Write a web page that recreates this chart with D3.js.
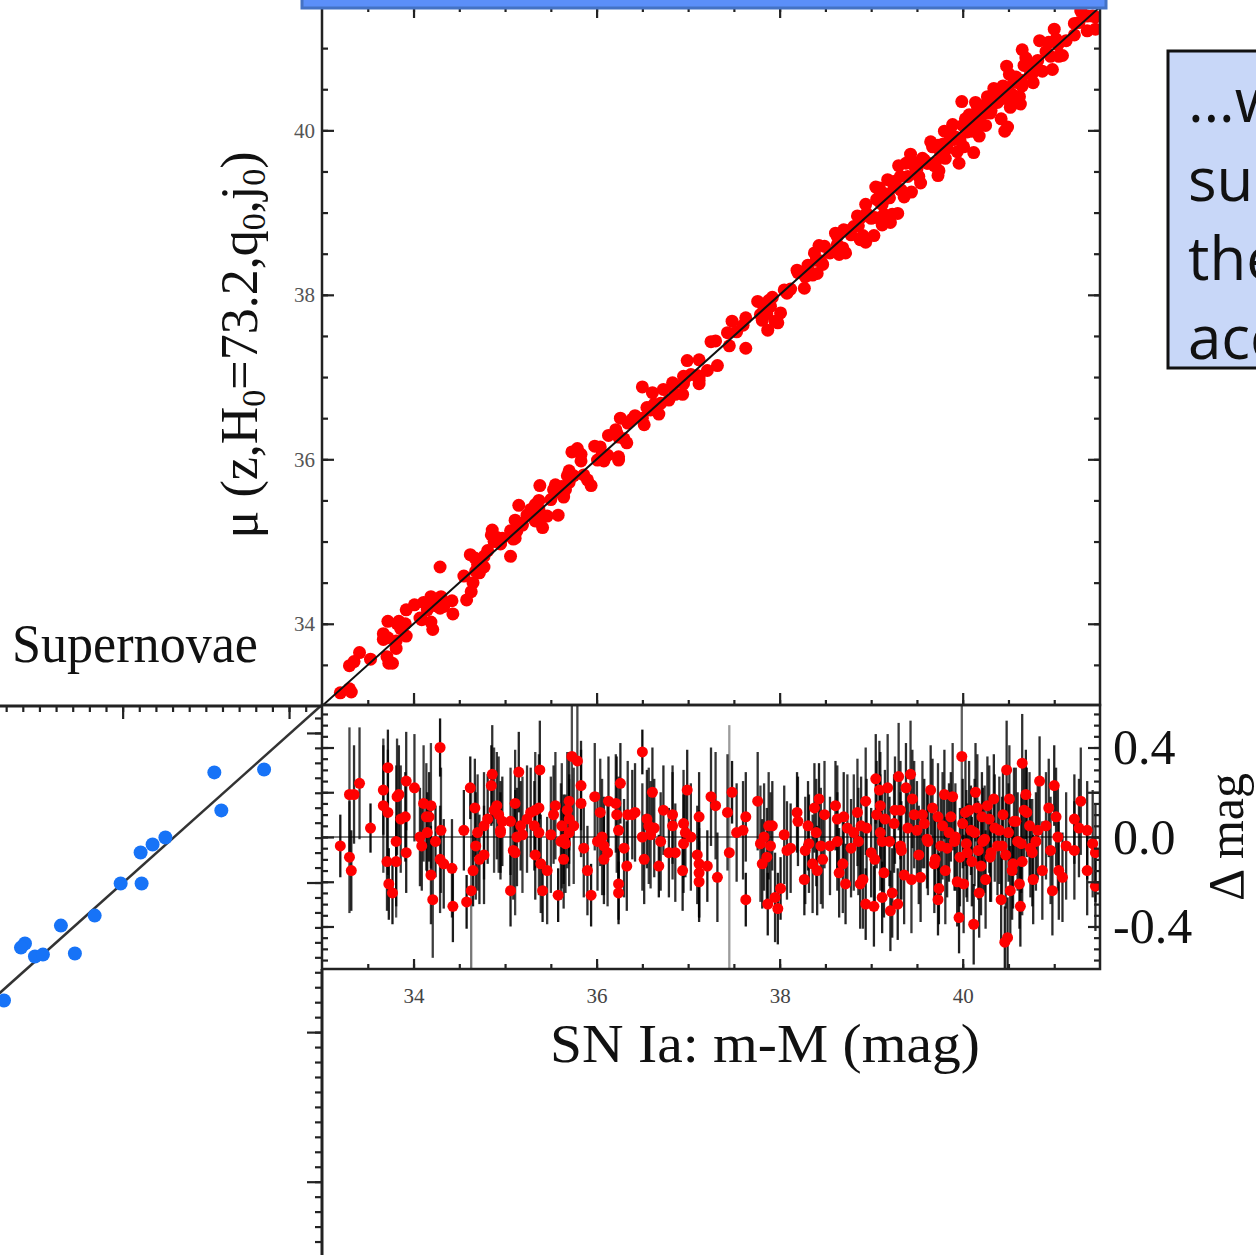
<!DOCTYPE html>
<html>
<head>
<meta charset="utf-8">
<script src="https://cdn.jsdelivr.net/npm/d3@7"></script>
<style>
  body { margin: 0; background: #fff; overflow: hidden; }
  svg { display: block; }
</style>
</head>
<body>
<svg id="chart" width="1256" height="1255"></svg>
<script>
// SN Ia: [m-M (mag), residual Δmag, error (mag)]
const sneNear = [
  [33.20,-0.04,0.14],[33.30,0.19,0.30],[33.35,0.19,0.22],[33.30,-0.09,0.25],[33.32,-0.15,0.18],
  [33.41,0.24,0.25],[33.53,0.04,0.11],[33.67,0.21,0.20],[33.72,0.31,0.17],[33.67,0.14,0.30],
  [33.72,0.11,0.28],[33.71,-0.11,0.22],[33.81,-0.11,0.20],[33.81,-0.02,0.34],[33.73,-0.21,0.16],
  [33.77,-0.25,0.14],[33.82,0.18,0.26],[33.84,0.19,0.22],[33.86,0.08,0.24],[33.91,0.09,0.20],
  [33.92,0.25,0.22],[34.01,0.22,0.24],[33.92,-0.07,0.18],[34.07,0.00,0.22],[34.09,-0.04,0.20],
  [34.11,0.15,0.26],[34.14,0.09,0.24],[34.17,0.09,0.20],[34.19,0.14,0.28],[34.15,0.02,0.18],
  [34.24,-0.02,0.16],[34.29,0.40,0.13],[34.30,0.03,0.28],[34.29,-0.10,0.24],[34.33,-0.12,0.20],
  [34.42,-0.14,0.22],[34.19,-0.17,0.22],[34.21,-0.28,0.26],[34.43,-0.31,0.16],[34.58,-0.29,0.12],
  [34.63,-0.24,0.45],[34.62,0.22,0.14],[34.67,0.13,0.22],[34.55,0.03,0.18],[34.68,-0.04,0.24],
  [34.65,-0.15,0.16],[34.77,-0.08,0.22],[34.72,-0.10,0.20],[34.70,0.02,0.26],[34.77,0.05,0.24],
  [34.81,0.08,0.20],[34.85,0.23,0.18],[34.86,0.28,0.22],[34.88,0.12,0.28],[34.91,0.14,0.24],
  [34.93,0.10,0.26],[34.95,0.03,0.22],[34.97,0.07,0.20],[35.06,0.07,0.24],[34.95,0.02,0.18],
  [35.09,-0.06,0.22],[35.06,-0.24,0.16],[35.11,-0.07,0.28],[35.15,0.29,0.18],[35.11,0.15,0.24],
  [35.17,0.05,0.20],[35.19,0.01,0.26],[35.13,0.00,0.22],[35.24,0.08,0.24],[35.28,0.11,0.20],
  [35.33,0.12,0.26],[35.38,0.30,0.22],[35.37,0.13,0.24],[35.32,0.05,0.20],[35.37,0.02,0.28],
  [35.39,-0.12,0.22],[35.33,-0.08,0.20],[35.41,-0.24,0.14],[35.46,-0.15,0.24],[35.50,0.01,0.26],
  [35.53,0.10,0.22],[35.55,0.14,0.24],[35.61,-0.02,0.26],[35.64,-0.01,0.20],[35.62,0.05,0.28],
  [35.66,-0.03,0.22],[35.70,0.02,0.24],[35.70,0.08,0.20],[35.68,0.12,0.26],[35.70,0.16,0.22],
  [35.73,0.36,0.32],[35.79,0.34,0.30],[35.83,0.23,0.20],[35.83,0.15,0.24],[35.75,0.05,0.26],
  [35.64,-0.10,0.22],[35.58,-0.26,0.12],[35.86,-0.05,0.22],[35.90,-0.15,0.20],[35.94,-0.26,0.14],
  [35.98,0.18,0.24],[36.01,-0.02,0.22],[36.04,0.11,0.24],[36.06,0.00,0.26],[36.08,-0.04,0.22],
  [36.08,-0.10,0.20],[36.12,-0.07,0.24],[36.13,0.16,0.20],[36.21,0.15,0.22],[36.22,0.10,0.26],
  [36.24,0.03,0.24],[36.26,0.24,0.18],[36.24,-0.21,0.16],[36.24,-0.25,0.14],[36.30,-0.05,0.22],
  [36.33,-0.13,0.20],[36.34,0.10,0.24],[36.39,0.10,0.20],[36.42,0.11,0.22],[36.50,0.38,0.10],
  [36.50,0.00,0.24],[36.52,-0.10,0.20],[36.55,0.08,0.22],[36.57,0.05,0.26],[36.61,0.20,0.20],
  [36.59,0.01,0.24],[36.63,0.04,0.22],[36.68,-0.13,0.14],[36.70,-0.02,0.22],[36.73,0.12,0.20],
  [36.83,0.10,0.22],[36.83,0.05,0.24],[36.79,-0.07,0.20],[36.86,-0.07,0.22],[36.94,-0.15,0.18],
  [36.95,0.06,0.24],[36.97,0.02,0.20],[36.99,0.21,0.18],[36.95,-0.03,0.22],[37.03,0.00,0.24],
  [37.12,0.09,0.20],[37.10,-0.08,0.22],[37.12,-0.12,0.24],[37.12,-0.16,0.20],[37.12,-0.20,0.18],
  [37.21,-0.13,0.16],[37.25,0.18,0.22],[37.30,0.14,0.24],[37.32,-0.18,0.20]
];

const sneFar = [
  [37.45,-0.07,0.57],[37.48,0.20,0.14],[37.43,0.11,0.26],[37.53,0.02,0.22],[37.63,0.09,0.20],
  [37.63,-0.28,0.12],[37.76,0.16,0.22],[37.79,-0.03,0.26],[37.83,0.00,0.24],[37.81,-0.12,0.20],
  [37.86,-0.09,0.22],[37.88,0.05,0.24],[37.92,0.05,0.20],[37.87,-0.30,0.14],[37.95,-0.27,0.20],
  [37.98,-0.32,0.16],[38.01,-0.23,0.14],[38.08,-0.06,0.22],[38.12,-0.05,0.20],[38.19,0.11,0.18],
  [38.27,-0.19,0.16],[38.28,-0.06,0.24],[38.31,0.05,0.20],[38.32,-0.03,0.22],[38.38,0.13,0.20],
  [38.36,-0.12,0.22],[38.43,0.17,0.16],[38.41,-0.15,0.20],[38.47,-0.10,0.22],[38.49,0.10,0.24],
  [38.45,-0.04,0.26],[38.61,0.14,0.20],[38.63,0.08,0.24],[38.63,-0.02,0.22],[38.65,-0.16,0.20],
  [38.72,-0.21,0.18],[38.69,-0.12,0.22],[38.74,0.04,0.24],[38.78,-0.05,0.22],[38.81,0.02,0.26],
  [38.85,0.11,0.24],[38.89,0.05,0.22],[38.88,-0.21,0.20],[38.91,-0.19,0.22],[38.94,0.16,0.24],
  [38.94,-0.30,0.16],[39.03,-0.31,0.18],[39.04,-0.10,0.22],[39.05,0.26,0.20],[39.09,0.21,0.22],
  [39.10,0.14,0.24],[39.10,0.02,0.26],[39.12,-0.02,0.22],[39.14,-0.16,0.20],[39.18,0.22,0.24],
  [39.12,-0.27,0.16],[39.21,-0.33,0.18],[39.23,-0.25,0.20],[39.29,-0.30,0.16],[39.30,0.27,0.24],
  [39.25,0.06,0.22],[39.32,-0.04,0.24],[39.32,0.12,0.22],[39.38,0.22,0.20],[39.36,-0.17,0.22],
  [39.43,0.28,0.24],[39.45,0.17,0.22],[39.44,-0.19,0.24],[39.50,0.03,0.22],[39.54,-0.18,0.20],
  [39.56,0.10,0.24],[39.61,-0.01,0.22],[39.65,0.21,0.20],[39.69,-0.12,0.22],[39.73,0.09,0.24],
  [39.74,-0.23,0.16],[39.73,-0.28,0.16],[39.76,-0.04,0.22],[39.80,0.19,0.20],[39.81,-0.15,0.24],
  [39.85,0.02,0.22],[39.89,0.18,0.24],[39.91,-0.02,0.22],[39.94,-0.20,0.20],[39.96,-0.36,0.16],
  [39.99,0.36,0.37],[40.01,-0.21,0.22],[40.03,0.11,0.24],[40.05,-0.07,0.22],[40.09,0.03,0.20],
  [40.12,-0.39,0.18],[40.14,0.20,0.22],[40.16,0.13,0.24],[40.18,-0.25,0.20],[40.20,-0.13,0.22],
  [40.22,-0.02,0.24],[40.25,-0.19,0.22],[40.29,0.08,0.24],[40.31,-0.07,0.22],[40.34,0.17,0.20],
  [40.40,0.03,0.24],[40.42,-0.28,0.20],[40.43,-0.04,0.22],[40.46,-0.47,0.16],[40.48,0.30,0.22],
  [40.49,-0.45,0.18],[40.51,0.17,0.24],[40.52,-0.24,0.20],[40.54,-0.15,0.22],[40.56,0.07,0.24],
  [40.60,-0.02,0.22],[40.62,-0.21,0.20],[40.63,-0.31,0.18],[40.65,0.33,0.22],[40.65,-0.11,0.24],
  [40.67,0.12,0.22],[40.69,0.19,0.20],[40.73,0.05,0.24],[40.74,-0.05,0.22],[40.77,-0.19,0.20],
  [40.80,-0.02,0.22],[40.84,0.25,0.20],[40.87,-0.15,0.22],[40.91,0.05,0.24],[40.94,0.13,0.22],
  [40.96,-0.06,0.24],[40.98,-0.24,0.20],[41.00,0.23,0.18],[41.02,0.09,0.22],[41.04,0.00,0.24],
  [41.05,-0.15,0.22],[41.09,-0.18,0.20],[41.13,-0.04,0.24],[41.22,-0.06,0.22],[41.22,0.08,0.20],
  [41.27,0.04,0.22],[41.29,0.16,0.24],[41.36,0.03,0.22],[41.36,-0.15,0.20],[41.42,-0.03,0.24],
  [41.45,-0.22,0.20],[41.45,-0.07,0.22]
];

// the dense clump of distant SNe around zero residual
const sneClump = [
  [37.60,0.03,0.22],[37.90,-0.04,0.24],[38.05,0.01,0.22],[38.20,0.07,0.20],[38.40,0.02,0.24],
  [38.55,-0.04,0.22],[38.70,0.09,0.20],[38.86,-0.02,0.24],[38.95,0.04,0.22],[39.00,-0.07,0.20],
  [39.06,0.10,0.24],[39.15,0.08,0.22],[39.20,-0.02,0.20],[39.26,0.12,0.24],[39.33,-0.06,0.22],
  [39.40,0.04,0.20],[39.47,0.10,0.24],[39.52,-0.08,0.22],[39.58,0.06,0.20],[39.62,-0.02,0.24],
  [39.67,0.13,0.22],[39.70,-0.10,0.20],[39.78,0.05,0.24],[39.83,-0.05,0.22],[39.87,0.09,0.20],
  [39.92,0.00,0.24],[39.97,-0.09,0.22],[40.00,0.06,0.20],[40.04,-0.03,0.24],[40.07,0.12,0.22],
  [40.10,-0.11,0.20],[40.13,0.02,0.24],[40.17,-0.06,0.22],[40.21,0.09,0.20],[40.24,-0.01,0.24],
  [40.27,0.14,0.22],[40.30,-0.09,0.20],[40.35,0.04,0.24],[40.38,-0.04,0.22],[40.44,0.10,0.20],
  [40.47,-0.08,0.24],[40.50,0.02,0.22],[40.55,-0.12,0.20],[40.58,0.07,0.24],[40.64,-0.03,0.22],
  [40.70,0.11,0.20],[40.76,-0.07,0.24],[40.82,0.03,0.22]
];

const fitLine = [[33, 33], [41.5, 41.5]];

// lower-left rung (unlabelled axes, arbitrary units)
const rungPoints = [
  [0.551,0.736],[0.850,0.756],[0.593,0.482],[0.257,0.301],[0.180,0.254],[0.108,0.201],
  [-0.012,-0.007],[0.114,-0.007],[-0.168,-0.221],[-0.371,-0.288],[-0.587,-0.408],
  [-0.611,-0.435],[-0.527,-0.495],[-0.479,-0.482],[-0.287,-0.475],[-0.713,-0.789]
];
const rungLine = [[-0.74, -0.74], [1.2, 1.19]];

const muTicks = [34, 36, 38, 40];
const resTicks = [-0.4, 0, 0.4];
const boxLines = ['\u2026which', 'supernovae', 'the', 'acceleration'];

const svg = d3.select('#chart');
const serif = '"Liberation Serif", "Times New Roman", serif';
const ink = '#222';

const x = d3.scaleLinear().domain([33, 41.5]).range([322, 1100]);
const yMu = d3.scaleLinear().domain([33, 41.5]).range([706, 7]);
const yRes = d3.scaleLinear().domain([-0.59, 0.59]).range([969, 705]);
const llX = d3.scaleLinear().domain([-0.737, 1.198]).range([0, 322]);
const llY = d3.scaleLinear().domain([-2.49, 1.18]).range([1255, 706]);
const barOpacity = d3.scaleLinear().domain([0.1, 0.6]).range([0.95, 0.35]).clamp(true);

const allSne = sneNear.concat(sneFar, sneClump);

const defs = svg.append('defs');
defs.append('clipPath').attr('id', 'clipMain')
  .append('rect').attr('x', 322).attr('y', 0).attr('width', 778).attr('height', 705);
defs.append('clipPath').attr('id', 'clipRes')
  .append('rect').attr('x', 322).attr('y', 705).attr('width', 778).attr('height', 264);
defs.append('clipPath').attr('id', 'clipLL')
  .append('rect').attr('x', 0).attr('y', 706).attr('width', 322).attr('height', 549);

// ---- main Hubble diagram
const main = svg.append('g').attr('clip-path', 'url(#clipMain)');
main.selectAll('circle')
  .data(allSne)
  .join('circle')
  .attr('cx', d => x(d[0]))
  .attr('cy', d => yMu(d[0] + d[1]))
  .attr('r', 6.5)
  .attr('fill', '#ff0000');

main.append('path')
  .datum(fitLine)
  .attr('d', d3.line().x(d => x(d[0])).y(d => yMu(d[1])))
  .attr('stroke', '#111')
  .attr('stroke-width', 2)
  .attr('fill', 'none');

// ---- residual panel
const res = svg.append('g').attr('clip-path', 'url(#clipRes)');
res.append('line')
  .attr('x1', 322).attr('x2', 1100)
  .attr('y1', yRes(0)).attr('y2', yRes(0))
  .attr('stroke', '#555').attr('stroke-width', 1.5);

res.selectAll('line.err')
  .data(allSne)
  .join('line')
  .attr('class', 'err')
  .attr('x1', d => x(d[0])).attr('x2', d => x(d[0]))
  .attr('y1', d => yRes(d[1] - d[2]))
  .attr('y2', d => yRes(d[1] + d[2]))
  .attr('stroke', '#000')
  .attr('stroke-width', 2.3)
  .attr('opacity', d => barOpacity(d[2]));

res.selectAll('circle')
  .data(allSne)
  .join('circle')
  .attr('cx', d => x(d[0]))
  .attr('cy', d => yRes(d[1]))
  .attr('r', 5.5)
  .attr('fill', '#ff0000');

// ---- lower-left rung
const ll = svg.append('g').attr('clip-path', 'url(#clipLL)');
ll.append('path')
  .datum(rungLine)
  .attr('d', d3.line().x(d => llX(d[0])).y(d => llY(d[1])))
  .attr('stroke', '#333')
  .attr('stroke-width', 2.5)
  .attr('fill', 'none');
ll.selectAll('circle')
  .data(rungPoints)
  .join('circle')
  .attr('cx', d => llX(d[0]))
  .attr('cy', d => llY(d[1]))
  .attr('r', 7)
  .attr('fill', '#1773f7');

// ---- frames
const frame = svg.append('g').attr('fill', 'none').attr('stroke', ink).attr('stroke-width', 2.5);
frame.append('rect').attr('x', 322).attr('y', 7).attr('width', 778).attr('height', 698);
frame.append('rect').attr('x', 322).attr('y', 705).attr('width', 778).attr('height', 264);
frame.append('line').attr('x1', 322).attr('x2', 322).attr('y1', 969).attr('y2', 1255).attr('stroke-width', 3);
frame.append('line').attr('x1', 0).attr('x2', 322).attr('y1', 706).attr('y2', 706).attr('stroke-width', 3);

// ---- ticks
function tickAxis(axis, scale, values, size, tx, ty) {
  const g = svg.append('g')
    .attr('transform', `translate(${tx},${ty})`)
    .call(axis(scale).tickValues(values).tickSize(size).tickFormat(''));
  g.select('.domain').remove();
  g.selectAll('line').attr('stroke', ink).attr('stroke-width', 2.2);
  return g;
}
const halfMag = d3.range(33.5, 41.5, 0.5);
const resMinor = d3.range(-55, 60, 5).map(v => v / 100);
const resMajor = [-0.4, -0.2, 0, 0.2, 0.4];

tickAxis(d3.axisTop, x, halfMag, -5, 0, 7);
tickAxis(d3.axisTop, x, muTicks, -11, 0, 7);
tickAxis(d3.axisBottom, x, halfMag, -5, 0, 705);
tickAxis(d3.axisBottom, x, muTicks, -12, 0, 705);
tickAxis(d3.axisLeft, yMu, halfMag, -6, 322, 0);
tickAxis(d3.axisRight, yMu, halfMag, -6, 1100, 0);
tickAxis(d3.axisRight, yMu, muTicks, -12, 1100, 0);
tickAxis(d3.axisBottom, x, halfMag, -5, 0, 969);
tickAxis(d3.axisLeft, yRes, resMinor, -6, 322, 0);
tickAxis(d3.axisLeft, yRes, resMajor, -12, 322, 0);
tickAxis(d3.axisRight, yRes, resMinor, -6, 1100, 0);
tickAxis(d3.axisRight, yRes, resMajor, -12, 1100, 0);
tickAxis(d3.axisTop, llX, d3.range(-7, 12).map(v => v / 10), -6, 0, 706);
tickAxis(d3.axisTop, llX, [0, 1], -13, 0, 706);
tickAxis(d3.axisRight, llY, d3.range(-24, 12).map(v => v / 10), -7, 322, 0);
tickAxis(d3.axisRight, llY, [1, 0, -1, -2], -15, 322, 0);

// ---- labelled axes
function styleLabels(g, size, color) {
  g.select('.domain').remove();
  g.selectAll('line').attr('stroke', ink).attr('stroke-width', 2.2);
  g.selectAll('text')
    .attr('font-family', serif)
    .attr('font-size', size)
    .attr('fill', color);
}
svg.append('g').attr('transform', 'translate(322,0)')
  .call(d3.axisLeft(yMu).tickValues(muTicks).tickSize(-12).tickPadding(7))
  .call(g => styleLabels(g, 21, '#555'));

svg.append('g').attr('transform', 'translate(0,969)')
  .call(d3.axisBottom(x).tickValues(muTicks).tickSize(-10).tickPadding(19))
  .call(g => styleLabels(g, 21, '#444'));

svg.append('g').attr('transform', 'translate(1100,0)')
  .call(d3.axisRight(yRes).tickValues(resTicks).tickSize(0).tickPadding(13)
    .tickFormat(d => d.toFixed(1)))
  .call(g => styleLabels(g, 50, '#111'));

// ---- titles
svg.append('text')
  .attr('x', 765).attr('y', 1062)
  .attr('text-anchor', 'middle')
  .attr('font-family', serif).attr('font-size', 54).attr('fill', '#111')
  .attr('textLength', 430).attr('lengthAdjust', 'spacingAndGlyphs')
  .text('SN Ia: m-M (mag)');

svg.append('text')
  .attr('x', 12).attr('y', 662)
  .attr('font-family', serif).attr('font-size', 54).attr('fill', '#111')
  .attr('textLength', 246).attr('lengthAdjust', 'spacingAndGlyphs')
  .text('Supernovae');

// y title with subscripts; each subscript drops 8px, the following run lifts back
const yTitle = svg.append('text')
  .attr('transform', 'translate(257,345) rotate(-90)')
  .attr('text-anchor', 'middle')
  .attr('font-family', serif).attr('font-size', 52).attr('fill', '#111');
let drop = 0;
[['\u03bc (z,H', false], ['0', true], ['=73.2,q', false], ['0', true], [',j', false], ['0', true], [')', false]]
  .forEach(([t, sub]) => {
    const target = sub ? 8 : 0;
    yTitle.append('tspan')
      .attr('font-size', sub ? 34 : 52)
      .attr('dy', target - drop)
      .text(t);
    drop = target;
  });

svg.append('text')
  .attr('transform', 'translate(1243,837) rotate(-90)')
  .attr('text-anchor', 'middle')
  .attr('font-family', serif).attr('font-size', 50).attr('fill', '#111')
  .text('\u0394 mag');

// ---- overlay boxes
svg.append('rect')
  .attr('x', 302).attr('y', -10).attr('width', 804).attr('height', 18)
  .attr('fill', '#5b8ff9').attr('stroke', '#4472c4').attr('stroke-width', 3);

svg.append('rect')
  .attr('x', 1168).attr('y', 51).attr('width', 200).attr('height', 317)
  .attr('fill', '#c8d7f8').attr('stroke', '#111').attr('stroke-width', 3);

svg.append('g')
  .selectAll('text')
  .data(boxLines)
  .join('text')
  .attr('x', 1188)
  .attr('y', (d, i) => 122 + i * 79)
  .attr('font-family', '"Open Sans", "Noto Sans", sans-serif')
  .attr('font-size', 60)
  .attr('fill', '#111')
  .text(d => d);
</script>
</body>
</html>
